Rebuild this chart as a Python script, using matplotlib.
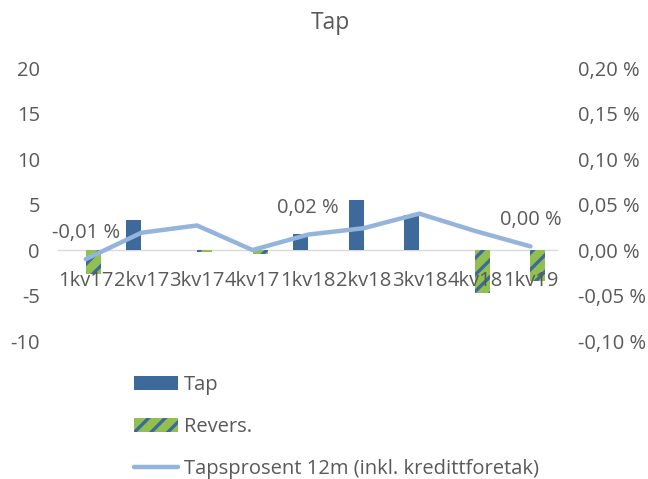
import numpy as np
import matplotlib.pyplot as plt

plt.rcParams['font.family'] = ['Open Sans', 'DejaVu Sans']
plt.rcParams['axes.unicode_minus'] = False
plt.rcParams['hatch.linewidth'] = 2.4

categories = ['1kv17', '2kv17', '3kv17', '4kv17', '1kv18', '2kv18', '3kv18', '4kv18', '1kv19']
tap = [0, 3.3, 0, 0, 1.8, 5.5, 3.8, 0, 0]
revers = [-2.6, 0, -0.25, -0.4, 0, 0, 0, -4.7, -3.4]
tapsprosent = [-0.010, 0.019, 0.027, 0.000, 0.017, 0.024, 0.040, 0.021, 0.004]
label_idx = [0, 4, 8]

grey = '#595959'
blue = '#3d6a9b'
green = '#92c050'
lightblue = '#94b4dc'

fig = plt.figure(figsize=(6.48, 4.79), dpi=100)
ax = fig.add_axes([0.0895, 0.288, 0.772, 0.570])
ax2 = ax.twinx()

x = np.arange(len(categories))
w = 0.27
b1 = ax.bar(x - w / 2, tap, w, color=blue, label='Tap')
b2 = ax.bar(x + w / 2, revers, w, facecolor=green, edgecolor=blue, linewidth=0,
            hatch='//', label='Revers.')
l1, = ax2.plot(x, tapsprosent, color=lightblue, lw=3.2, solid_capstyle='round',
               label='Tapsprosent 12m (inkl. kredittforetak)')

ax.axhline(0, color='#d9d9d9', lw=1, zorder=0)
ax.set_xlim(-0.5, len(categories) - 0.5)
ax.set_ylim(-10, 20)
ax.set_yticks([-10, -5, 0, 5, 10, 15, 20])
ax2.set_ylim(-0.10, 0.20)
ax2.set_yticks([-0.10, -0.05, 0, 0.05, 0.10, 0.15, 0.20])
ax2.set_yticklabels([f'{v:.2f} %'.replace('.', ',') for v in ax2.get_yticks()])
ax.set_xticks([])

fs = 14.5
for a in (ax, ax2):
    for s in a.spines.values():
        s.set_visible(False)
    a.tick_params(axis='y', length=0, labelsize=fs, colors=grey)
ax.tick_params(axis='y', pad=13)
ax2.tick_params(axis='y', pad=14)

# category labels sit right under the zero line, like in Excel
for i, c in enumerate(categories):
    ax.annotate(c, (x[i], 0), xytext=(0, -22), textcoords='offset points',
                ha='center', va='center', fontsize=fs, color=grey)

for i in label_idx:
    v = tapsprosent[i]
    ax2.annotate(f'{v:.2f} %'.replace('.', ',').replace('-0,00', '0,00'),
                 (x[i], v), xytext=(0, 19), textcoords='offset points',
                 ha='center', va='center', fontsize=fs, color=grey)

fig.text(0.51, 0.953, 'Tap', ha='center', va='center', fontsize=16.5, color=grey)

fig.legend(handles=[b1, b2, l1], loc='upper left', bbox_to_anchor=(0.195, 0.234),
           frameon=False, fontsize=fs, labelcolor=grey, handlelength=2.15,
           handletextpad=0.3, labelspacing=1.1, borderaxespad=0)

fig.savefig('out.png', dpi=100)
